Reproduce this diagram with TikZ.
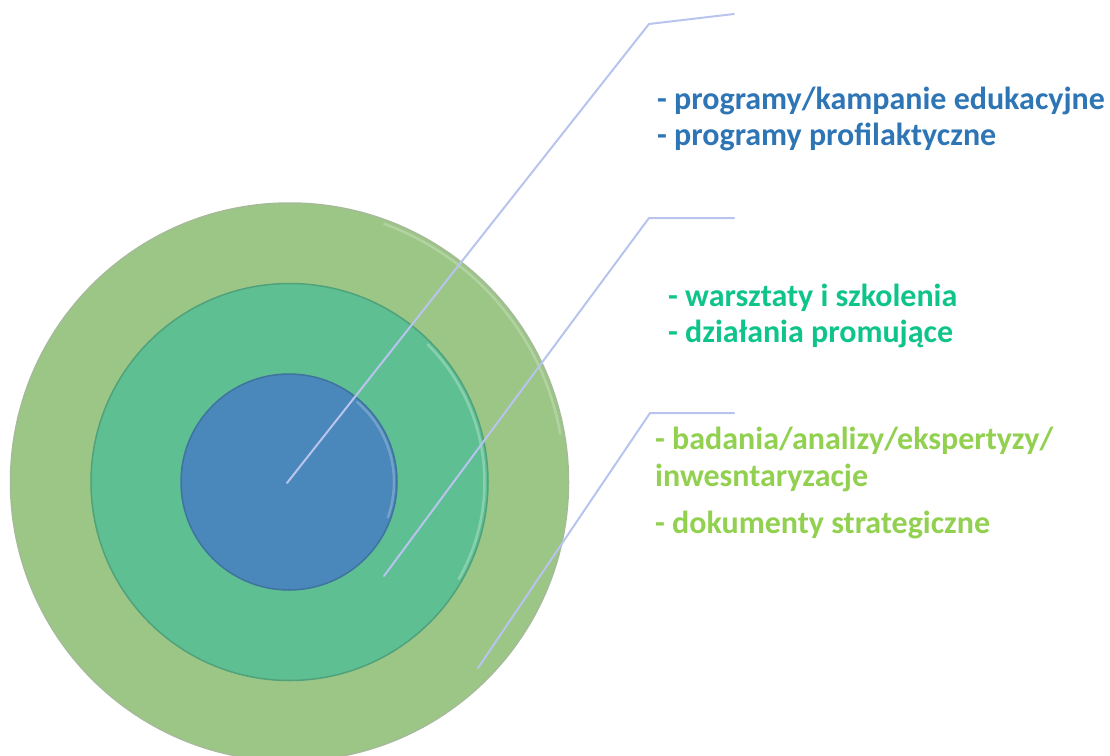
\documentclass[tikz,border=0pt]{standalone}
\usepackage{fontspec}
\setmainfont{Carlito}
\definecolor{outerG}{HTML}{9CC686}
\definecolor{midG}{HTML}{5EBF92}
\definecolor{innerB}{HTML}{4A88BB}
\definecolor{lineC}{HTML}{B8C4EE}
\definecolor{txtB}{HTML}{2E75B6}
\definecolor{txtT}{HTML}{0FC48A}
\definecolor{txtG}{HTML}{92D050}
\tikzset{
  ring/.style={circle, inner sep=0pt, line width=1.5pt},
  rim/.style={line width=2.5pt, opacity=0.45},
  leader/.style={draw=lineC, line width=2pt, line cap=round, line join=round},
  lbl/.style={anchor=base west, inner sep=0pt, font=\fontsize{32}{38}\selectfont\bfseries}
}
\begin{document}
\begin{tikzpicture}[x=1pt,y=-1pt]
\useasboundingbox (0,0) rectangle (1110,755);
\node[ring, fill=outerG, draw=outerG!80!black!70, minimum size=558pt] (outer) at (289.5,482) {};
\draw[rim, draw=outerG!50!white] (outer.center) ++(-10:275) arc[start angle=-10, end angle=-70, radius=275];
\node[ring, fill=midG, draw=midG!85!black, minimum size=397pt] (mid) at (289.5,482) {};
\draw[rim, draw=midG!40!white] (mid.center) ++(30:195) arc[start angle=30, end angle=-45, radius=195];
\node[ring, fill=innerB, draw=innerB!85!black, minimum size=216pt] (inner) at (289,482) {};
\draw[rim, draw=innerB!50!white] (inner.center) ++(20:105) arc[start angle=20, end angle=-50, radius=105];
\coordinate (s1) at (287,483);
\coordinate (e1) at (649,24);
\coordinate (t1) at (734,14);
\coordinate (s2) at (384,576);
\coordinate (e2) at (649,218);
\coordinate (t2) at (734,218);
\coordinate (s3) at (478,668);
\coordinate (e3) at (650,413);
\coordinate (t3) at (734,413);
\draw[leader] (s1) -- (e1) -- (t1);
\draw[leader] (s2) -- (e2) -- (t2);
\draw[leader] (s3) -- (e3) -- (t3);
\node[lbl, text=txtB] (b1) at (657,109) {- programy/kampanie edukacyjne};
\node[lbl, text=txtB] (b2) at (657,145) {- programy profilaktyczne};
\node[lbl, text=txtT] (m1) at (668,306) {- warsztaty i szkolenia};
\node[lbl, text=txtT] (m2) at (668,342) {- działania promujące};
\node[lbl, text=txtG] (g1) at (655,449) {- badania/analizy/ekspertyzy/};
\node[lbl, text=txtG] (g2) at (655,486) {inwesntaryzacje};
\node[lbl, text=txtG] (g3) at (655,533) {- dokumenty strategiczne};
\end{tikzpicture}
\end{document}
